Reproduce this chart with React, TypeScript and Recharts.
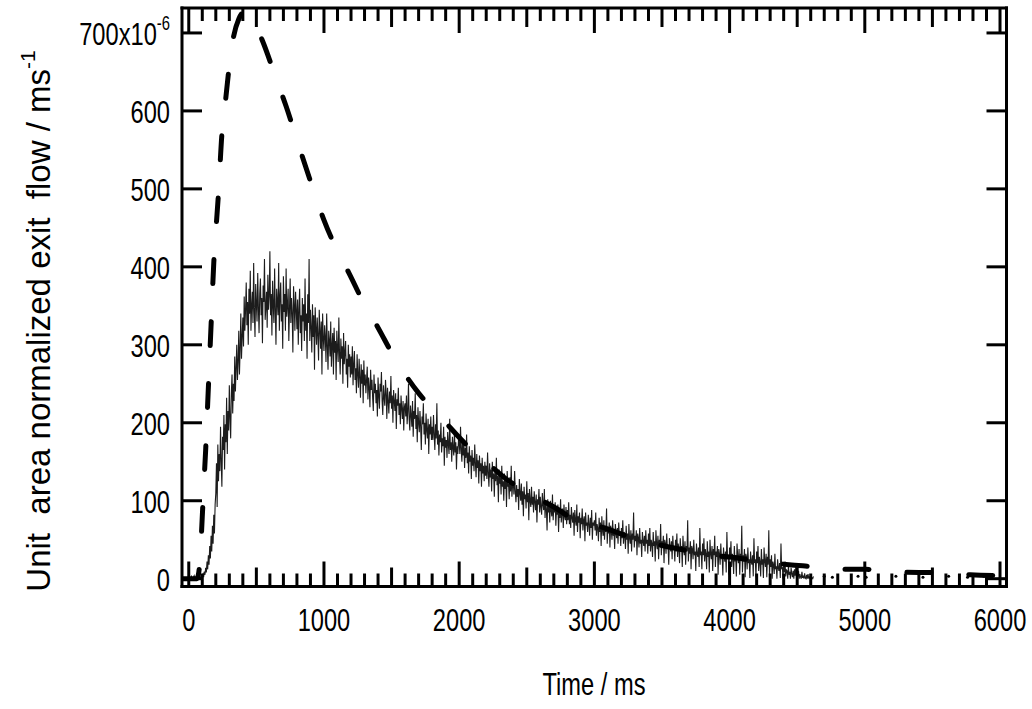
import React from 'react'
import { ComposedChart, Line, Scatter, XAxis, YAxis } from 'recharts'

// measured exit flow (x10^-6 m/s), one sample every 5 ms starting at t = 0
const SAMPLE_MS = 5
const measuredFlow = [
  0, 2, 1, 0, 3, 1, 0, 2, 4, 1, 0, 3, 1, 2, 0, 5, 2, 1, 3, 0, 4, 6, 2, 9, 5, 14, 8, 22, 12, 30, 18, 42, 26, 55, 35, 68, 45, 82, 58, 95,
  110, 148, 92, 172, 125, 160, 138, 195, 150, 118, 182, 165, 210, 140, 198, 175, 232, 160, 215, 190, 248, 205, 180, 238, 262, 212, 250, 228, 285, 240, 270, 300, 255, 278, 318, 262, 295, 340, 282, 310,
  335, 298, 362, 318, 345, 380, 325, 355, 300, 372, 340, 395, 318, 350, 368, 328, 405, 342, 310, 378, 352, 330, 392, 348, 315, 365, 385, 338, 360, 302, 376, 355, 410, 332, 348, 368, 322, 390, 345, 362,
  420, 338, 365, 312, 382, 350, 328, 398, 345, 300, 372, 355, 338, 405, 318, 362, 380, 330, 352, 295, 388, 342, 365, 318, 398, 336, 350, 372, 305, 345, 385, 328, 360, 340, 290, 375, 352, 318, 368, 345,
  320, 358, 300, 345, 372, 315, 338, 292, 360, 330, 352, 305, 385, 318, 340, 282, 365, 328, 410, 305, 345, 322, 290, 352, 310, 338, 268, 348, 322, 300, 335, 312, 280, 345, 318, 295, 330, 262, 340, 308,
  292, 325, 310, 278, 340, 298, 268, 318, 305, 285, 330, 272, 300, 315, 262, 322, 290, 305, 255, 318, 295, 278, 335, 288, 262, 308, 282, 298, 250, 315, 275, 290, 305, 262, 282, 245, 300, 272, 288, 258,
  285, 262, 298, 248, 275, 292, 255, 270, 238, 288, 262, 245, 282, 258, 232, 275, 250, 268, 225, 280, 248, 262, 238, 255, 272, 230, 258, 245, 220, 268, 242, 255, 232, 215, 262, 238, 250, 225, 242, 208,
  258, 235, 218, 250, 240, 265, 228, 210, 248, 232, 222, 255, 238, 205, 245, 228, 212, 240, 225, 260, 218, 235, 200, 242, 228, 215, 238, 192, 230, 222, 245, 210, 225, 198, 235, 218, 205, 228, 190, 220,
  225, 208, 235, 198, 215, 250, 205, 190, 222, 210, 195, 228, 182, 215, 205, 238, 192, 210, 175, 220, 200, 188, 215, 195, 165, 208, 198, 225, 185, 200, 172, 212, 190, 180, 205, 160, 198, 185, 208, 178,
  195, 178, 210, 185, 165, 198, 180, 225, 172, 190, 158, 185, 175, 200, 162, 180, 170, 195, 145, 182, 168, 178, 155, 188, 172, 160, 205, 165, 175, 150, 182, 168, 158, 190, 162, 175, 140, 170, 160, 178,
  175, 160, 195, 165, 150, 180, 158, 172, 142, 168, 155, 185, 148, 162, 135, 170, 150, 158, 128, 165, 145, 155, 138, 172, 148, 130, 160, 142, 152, 122, 158, 138, 148, 118, 155, 135, 145, 125, 150, 132,
  145, 128, 162, 135, 118, 148, 130, 140, 112, 150, 128, 135, 105, 142, 125, 155, 120, 132, 98, 140, 122, 130, 108, 145, 118, 125, 100, 135, 115, 128, 92, 138, 118, 122, 102, 130, 112, 145, 105, 120,
  125, 108, 138, 112, 98, 120, 105, 115, 88, 128, 110, 100, 122, 95, 112, 80, 118, 102, 108, 90, 125, 98, 110, 75, 115, 100, 92, 118, 95, 105, 85, 112, 98, 88, 108, 72, 102, 95, 115, 85,
  105, 92, 82, 110, 95, 88, 115, 78, 98, 90, 62, 102, 85, 95, 72, 100, 88, 80, 108, 75, 92, 85, 98, 68, 90, 82, 95, 60, 88, 78, 102, 72, 85, 90, 65, 95, 80, 75, 92, 70,
  88, 75, 98, 70, 82, 65, 92, 78, 72, 85, 55, 88, 75, 68, 95, 60, 80, 72, 85, 52, 78, 70, 90, 62, 75, 80, 48, 85, 68, 72, 60, 82, 70, 55, 78, 65, 88, 50, 72, 68,
  75, 62, 85, 55, 70, 65, 48, 78, 60, 72, 42, 80, 62, 55, 75, 50, 68, 60, 90, 45, 65, 58, 72, 40, 68, 62, 50, 75, 55, 60, 38, 70, 58, 52, 65, 45, 72, 55, 60, 42,
  65, 52, 75, 45, 60, 55, 38, 68, 50, 58, 32, 70, 52, 45, 62, 35, 58, 50, 85, 40, 55, 48, 62, 30, 58, 52, 40, 65, 45, 50, 28, 60, 48, 42, 55, 35, 62, 45, 50, 32,
  58, 42, 65, 35, 50, 45, 28, 60, 42, 48, 22, 62, 45, 38, 55, 25, 50, 42, 70, 30, 48, 40, 55, 20, 50, 45, 32, 58, 38, 42, 18, 52, 40, 35, 48, 25, 55, 38, 42, 22,
  50, 35, 58, 28, 45, 38, 20, 52, 35, 42, 15, 55, 38, 30, 48, 18, 42, 35, 75, 22, 40, 32, 48, 12, 42, 38, 25, 50, 30, 35, 10, 45, 32, 28, 40, 15, 65, 30, 35, 12,
  45, 30, 52, 22, 38, 32, 12, 48, 28, 35, 8, 50, 32, 25, 42, 10, 38, 30, 55, 15, 35, 28, 42, 5, 38, 32, 18, 45, 25, 30, 4, 40, 28, 22, 35, 8, 60, 25, 30, 5,
  40, 25, 48, 15, 32, 28, 6, 42, 22, 30, 3, 45, 28, 20, 38, 5, 32, 25, 68, 8, 30, 22, 38, 2, 32, 28, 12, 40, 20, 25, 1, 35, 22, 18, 30, 3, 52, 20, 25, 2,
  35, 20, 42, 10, 28, 22, 3, 38, 18, 25, 1, 40, 22, 15, 32, 2, 28, 18, 62, 4, 25, 15, 30, 0, 22, 18, 6, 32, 12, 16, 0, 25, 14, 10, 20, 1, 45, 12, 15, 0,
  18, 8, 22, 3, 12, 10, 0, 16, 5, 9, 0, 14, 6, 2, 10, 0, 12, 4, 15, 1, 8, 3, 10, 0, 6, 2, 0, 9, 1, 4, 0, 7, 1, 0, 5, 0, 6, 1, 2, 0, 4, 0, 1, 0, 3,
]

// model curve (dashed)
const modelTime = [
  -45, 0, 60, 70, 85, 100, 110, 125, 140, 155, 170, 185, 200, 220, 245, 270, 300, 330, 370, 420, 480,
  545, 645, 720, 807, 900, 1000, 1100, 1185, 1290, 1400, 1510, 1700, 1870, 2070, 2200, 2340, 2510,
  2710, 2880, 3080, 3250, 3465, 3655, 3835, 4050, 4220, 4440, 4640, 4810, 5010, 5185, 5400, 5600,
  5780, 6010,
]
const modelFlow = [
  0, 0, 0, 4, 28, 80, 115, 165, 225, 285, 345, 405, 445, 495, 570, 610, 658, 694, 718, 728, 715,
  690, 642, 606, 559, 510, 460, 420, 392, 355, 322, 287, 238, 206, 169, 150, 129, 110,
  91, 73, 65, 54, 44, 37, 31, 27, 22, 18, 15, 12, 12, 9, 8, 8,
  5, 4,
]

// sparse residual points after the signal dies out
const tailTime = [4700, 4760, 4950, 5010, 5230, 5430, 5620, 5760, 5880]
const tailFlow = [3, 2, 3, 2, 3, 2, 3, 2, 3]

// x ticks every 100 ms, labelled every 1000 ms
const xTicks = Array.from({ length: 61 }, (_, i) => i * 100)
const yTicks = [0, 100, 200, 300, 400, 500, 600, 700]

const X_DOMAIN = [-50, 6048]
const Y_DOMAIN = [-10, 732]
const THIN = 0.001 // axes need a non-zero size to be drawn

const measuredData = measuredFlow.map((v, i) => ({ t: i * SAMPLE_MS, v }))
const modelData = modelTime.map((t, i) => ({ t, v: modelFlow[i] }))
const tailData = tailTime.map((t, i) => ({ t, v: tailFlow[i] }))

const FONT = "'Liberation Sans', Arial, Helvetica, sans-serif"
const SQUEEZE = 0.74
const frame = { stroke: '#000', strokeWidth: 3, strokeLinecap: 'square' as const }
const tickStroke = { stroke: '#000', strokeWidth: 3 }

const squeeze = (x: number) => `translate(${x} 0) scale(${SQUEEZE} 1) translate(${-x} 0)`
const markLength = (v: number) => (v % 1000 === 0 ? 25 : v % 500 === 0 ? 19 : 13)

const NoLabel = () => <g />

function BottomTick(props: any) {
  const { x, y, payload } = props
  const v = payload.value
  return (
    <g>
      <line x1={x} x2={x} y1={y} y2={y - markLength(v)} {...tickStroke} />
      {v % 1000 === 0 && (
        <text x={x} y={y + 45} textAnchor="middle" fontSize={32} fontFamily={FONT} fill="#000" transform={squeeze(x)}>
          {v}
        </text>
      )}
    </g>
  )
}

function TopTick(props: any) {
  const { x, y, payload } = props
  return <line x1={x} x2={x} y1={y} y2={y + markLength(payload.value)} {...tickStroke} />
}

function YTickLabel(props: any) {
  const { x, y, payload } = props
  const v = payload.value
  return (
    <text x={x} y={y + 12} textAnchor="end" fontSize={32} fontFamily={FONT} fill="#000" transform={squeeze(x)}>
      {v === 700 ? (
        <>
          700x10<tspan fontSize={20} dy={-15}>-6</tspan>
        </>
      ) : (
        v
      )}
    </text>
  )
}

function XTitle(props: any) {
  return (
    <text x={594} y={695} textAnchor="middle" fontSize={32} fontFamily={FONT} fill="#000" transform={squeeze(594)}>
      {props.value}
    </text>
  )
}

function YTitle(props: any) {
  return (
    <text
      x={50}
      y={321}
      textAnchor="middle"
      fontSize={33}
      fontFamily={FONT}
      fill="#000"
      transform="rotate(-90 50 321)"
      style={{ whiteSpace: 'pre' }}
    >
      {props.value}
      <tspan fontSize={21} dy={-15}>-1</tspan>
    </text>
  )
}

export default function App() {
  const xAxisBase = {
    type: 'number' as const,
    dataKey: 't',
    domain: X_DOMAIN,
    allowDataOverflow: true,
    ticks: xTicks,
    interval: 0 as const,
    height: THIN,
    tickSize: 0,
    tickMargin: 0,
    tickLine: false,
    axisLine: frame,
  }
  const yTickAxis = {
    type: 'number' as const,
    domain: Y_DOMAIN,
    allowDataOverflow: true,
    width: THIN,
    interval: 0 as const,
    tick: NoLabel,
    mirror: true,
    ticks: yTicks,
    tickSize: 20,
    tickLine: tickStroke,
    axisLine: frame,
  }

  return (
    <div style={{ position: 'absolute', left: 0, top: 0, background: '#fff' }}>
      <ComposedChart width={1032} height={709} margin={{ top: 8, right: 25.5, bottom: 122.5, left: 182 }}>
        <XAxis
          xAxisId="x"
          {...xAxisBase}
          orientation="bottom"
          tick={BottomTick}
          label={{ value: 'Time / ms', content: XTitle }}
        />
        <XAxis xAxisId="top" {...xAxisBase} orientation="top" tick={TopTick} />
        <YAxis
          yAxisId="y"
          dataKey="v"
          type="number"
          domain={Y_DOMAIN}
          allowDataOverflow
          ticks={yTicks}
          interval={0}
          width={THIN}
          tickSize={0}
          tickMargin={12}
          tickLine={false}
          axisLine={false}
          tick={YTickLabel}
          label={{ value: 'Unit  area normalized exit  flow / ms', content: YTitle }}
        />
        <YAxis yAxisId="l" {...yTickAxis} orientation="left" />
        <YAxis yAxisId="r" {...yTickAxis} orientation="right" />

        <Line
          xAxisId="x"
          yAxisId="y"
          data={measuredData}
          dataKey="v"
          type="linear"
          stroke="#1c1c1c"
          strokeWidth={1.1}
          dot={false}
          isAnimationActive={false}
        />
        {/* the model curve is tied to the top axis (same scale) so that axis gets its ticks */}
        <Line
          xAxisId="top"
          yAxisId="y"
          data={modelData}
          dataKey="v"
          type="monotone"
          stroke="#000"
          strokeWidth={5}
          strokeDasharray="24 38"
          strokeLinecap="round"
          dot={false}
          isAnimationActive={false}
        />
        <Scatter
          xAxisId="x"
          yAxisId="y"
          data={tailData}
          dataKey="v"
          fill="#000"
          shape={(p: any) => <circle cx={p.cx} cy={p.cy} r={1.5} fill="#000" />}
          isAnimationActive={false}
        />
      </ComposedChart>
    </div>
  )
}
